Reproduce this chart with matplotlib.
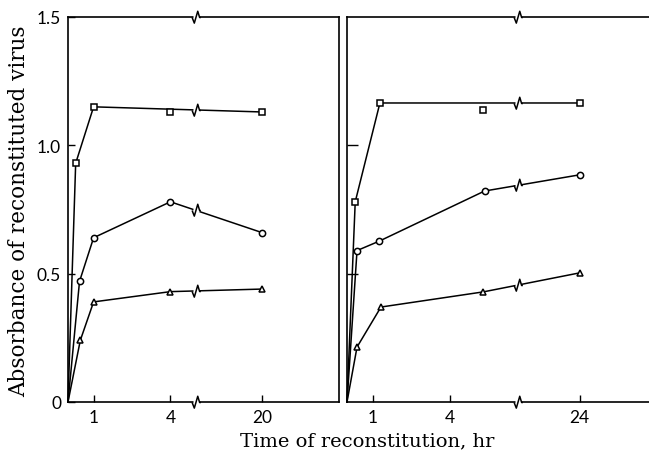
import numpy as np
import matplotlib
matplotlib.use("Agg")
import matplotlib.pyplot as plt
from matplotlib.path import Path

# left panel data (hours, absorbance)
left_sq_h = [0, 0.3, 1, 20]
left_sq_v = [0, 0.93, 1.15, 1.13]
left_sq_extra_h = [4]
left_sq_extra_v = [1.13]
left_ci_h = [0, 0.45, 1, 4, 20]
left_ci_v = [0, 0.47, 0.64, 0.78, 0.66]
left_tr_h = [0, 0.48, 1, 4, 20]
left_tr_v = [0, 0.24, 0.39, 0.43, 0.44]

# right panel data
right_sq_h = [0, 0.32, 1.28, 24]
right_sq_v = [0, 0.78, 1.165, 1.165]
right_sq_extra_h = [5.3]
right_sq_extra_v = [1.137]
right_ci_h = [0, 0.39, 1.26, 5.35, 24]
right_ci_v = [0, 0.59, 0.627, 0.822, 0.885]
right_tr_h = [0, 0.39, 1.32, 5.3, 24]
right_tr_v = [0, 0.214, 0.37, 0.429, 0.503]

left_ticks = [1, 4, 20]
right_ticks = [1, 4, 24]
y_ticks = [0, 0.5, 1.0, 1.5]
y_ticklabels = ["0", "0.5", "1.0", "1.5"]

# broken time axis: piecewise linear scale (hours -> px along axis)
left_knots_h = [0, 5.0, 20, 37.7]
left_knots_px = [0, 128, 194, 271]
right_knots_h = [0, 6.65, 24, 43.6]
right_knots_px = [0, 171, 232.5, 302]

tick_font = dict(family=["Lato", "DejaVu Sans"], size=12.5)
ylabel_font = dict(family="DejaVu Serif", size=15.5)
xlabel_font = dict(family="DejaVu Serif", size=14)

zig = Path([(-0.7, 0), (-0.35, -0.9), (0.2, 1.0), (0.5, 0.0), (0.7, 0)])
cover = Path([(-0.55, -0.25), (0.55, -0.25), (0.55, 0.25), (-0.55, 0.25), (-0.55, -0.25)])


def scale_funcs(kh, kp):
    fwd = lambda h: np.interp(h, kh, kp)
    inv = lambda p: np.interp(p, kp, kh)
    return fwd, inv


def draw_break(ax, x, y):
    ax.plot([x], [y], ls="none", marker=cover, ms=9 * 0.55, mfc="white", mec="none",
            zorder=6, clip_on=False)
    ax.plot([x], [y], ls="none", marker=zig, ms=9, mfc="none", mec="black", mew=1.1,
            zorder=7, clip_on=False)


def series(ax, h, v, marker, fwd, brk):
    # line from the origin, markers only on measured points
    ax.plot(h, v, color="black", lw=1.1, marker=marker, ms=4.5, mfc="white", mec="black",
            mew=1.1, markevery=list(range(1, len(h))), zorder=3, clip_on=False)
    xs = fwd(np.array(h, dtype=float))
    for i in range(len(h) - 1):
        if h[i] < brk < h[i + 1]:
            t = (fwd(brk) - xs[i]) / (xs[i + 1] - xs[i])
            draw_break(ax, brk, v[i] + t * (v[i + 1] - v[i]))


fig = plt.figure(figsize=(6.49, 4.52), dpi=100)
ax1 = fig.add_axes([68 / 649, 49 / 452, 271 / 649, 385 / 452])
ax2 = fig.add_axes([347 / 649, 49 / 452, 302 / 649, 385 / 452])

panels = [
    (ax1, left_knots_h, left_knots_px, left_ticks,
     [(left_sq_h, left_sq_v, "s"), (left_ci_h, left_ci_v, "o"), (left_tr_h, left_tr_v, "^")],
     (left_sq_extra_h, left_sq_extra_v)),
    (ax2, right_knots_h, right_knots_px, right_ticks,
     [(right_sq_h, right_sq_v, "s"), (right_ci_h, right_ci_v, "o"), (right_tr_h, right_tr_v, "^")],
     (right_sq_extra_h, right_sq_extra_v)),
]

for ax, kh, kp, xt, data, extra in panels:
    fwd, inv = scale_funcs(kh, kp)
    ax.set_xscale("function", functions=(fwd, inv))
    ax.set_xlim(0, kh[-1])
    ax.set_ylim(0, 1.5)
    brk = kh[1]
    for h, v, m in data:
        series(ax, h, v, m, fwd, brk)
    ax.plot(extra[0], extra[1], ls="none", marker="s", ms=4.5, mfc="white", mec="black",
            mew=1.1, zorder=3)
    draw_break(ax, brk, 0)
    draw_break(ax, brk, 1.5)
    ax.set_xticks(xt)
    ax.set_xticklabels([str(t) for t in xt], fontdict=tick_font)
    ax.tick_params(axis="x", direction="in", length=5, width=1.0, pad=5)
    for s in ax.spines.values():
        s.set_linewidth(1.2)

ax1.set_yticks(y_ticks)
ax1.set_yticklabels(y_ticklabels, fontdict=tick_font)
ax1.tick_params(axis="y", direction="in", length=5, width=1.0, pad=5)

ax2.set_yticks([0.5, 1.0])
ax2.set_yticklabels([])
ax2.tick_params(axis="y", direction="in", length=8, width=1.0)
ax2.spines["right"].set_visible(False)

fig.text(0.03, 0.533, "Absorbance of reconstituted virus", rotation=90,
         ha="center", va="center", **ylabel_font)
fig.text(0.566, 0.012, "Time of reconstitution, hr", ha="center", va="baseline", **xlabel_font)

fig.savefig("out.png", dpi=100)
